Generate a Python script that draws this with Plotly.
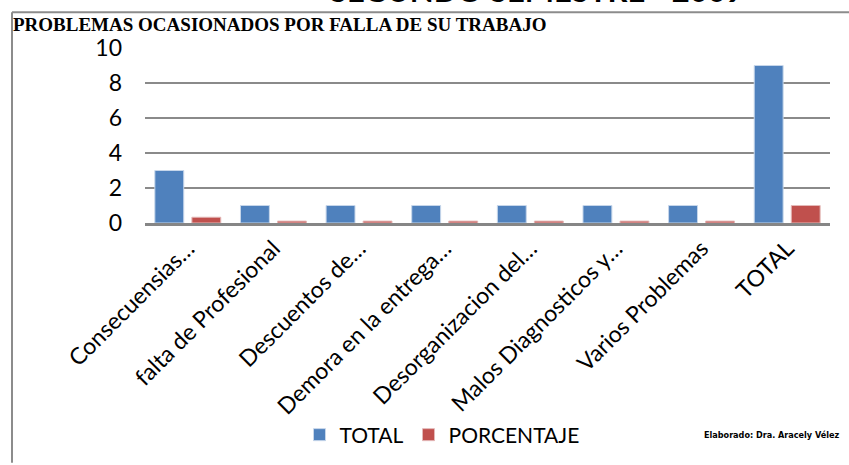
import plotly.graph_objects as go

categories = ["Consecuensias…", "falta de Profesional", "Descuentos de…", "Demora en la entrega…",
              "Desorganizacion del…", "Malos Diagnosticos y…", "Varios Problemas", "TOTAL"]
total = [3, 1, 1, 1, 1, 1, 1, 9]
porcentaje = [0.33, 0.11, 0.11, 0.11, 0.11, 0.11, 0.11, 1.0]
y_ticks = [0, 2, 4, 6, 8, 10]

W, H = 849, 465
L, R, T, B = 145, 19, 48, 241
pw, ph = W - L - R, H - T - B

def px(x):
    return (x - L) / pw

def py(y):
    return (H - B - y) / ph

FONT = "Lato, 'Open Sans', sans-serif"

fig = go.Figure()
fig.add_trace(go.Bar(x=categories, y=total, name="TOTAL", marker_color="#4f81bd",
                     marker_line=dict(color="#c6d6ea", width=1)))
fig.add_trace(go.Bar(x=categories, y=porcentaje, name="PORCENTAJE", marker_color="#c0504d",
                     marker_line=dict(color="#e4b9b8", width=1)))

fig.update_layout(
    width=W, height=H,
    margin=dict(l=L, r=R, t=T, b=B),
    paper_bgcolor="white", plot_bgcolor="white",
    barmode="group", bargap=0.135, bargroupgap=0.22,
    font=dict(family=FONT, size=21, color="black"),
    showlegend=True,
    legend=dict(orientation="h", x=px(442), y=py(435), xanchor="center", yanchor="middle",
                font=dict(family=FONT, size=21), itemwidth=30, traceorder="normal"),
    xaxis=dict(tickangle=-45, showline=True, linecolor="#868686", linewidth=3,
               showgrid=False, ticks="", tickfont=dict(family=FONT, size=23)),
    yaxis=dict(range=[0, 10], tickvals=y_ticks, showgrid=True, gridcolor="#8a8a8a",
               gridwidth=2, zeroline=False, showline=False, ticks="",
               ticklabelstandoff=22, tickfont=dict(family=FONT, size=23)),
)

fig.add_annotation(text="SEGUNDO SEMESTRE - 2009", xref="paper", yref="paper",
                   x=px(537), y=py(-10), xanchor="center", yanchor="middle", showarrow=False,
                   font=dict(family=FONT, size=31, color="black", weight="bold"))
fig.add_annotation(text="PROBLEMAS OCASIONADOS POR FALLA DE SU TRABAJO", xref="paper", yref="paper",
                   x=px(11), y=py(24), xanchor="left", yanchor="middle", showarrow=False,
                   font=dict(family="'Liberation Serif', serif", size=19, color="black", weight="bold"))
fig.add_annotation(text="Elaborado: Dra. Aracely Vélez", xref="paper", yref="paper",
                   x=px(771), y=py(437), xanchor="center", yanchor="middle", showarrow=False,
                   font=dict(family="'Liberation Sans Narrow', 'DejaVu Sans Condensed', sans-serif",
                             size=9, color="black", weight="bold"))

fig.add_shape(type="line", xref="paper", yref="paper", x0=px(12), x1=px(849), y0=py(12), y1=py(12),
              line=dict(color="#8c8c8c", width=2))
fig.add_shape(type="line", xref="paper", yref="paper", x0=px(12), x1=px(12), y0=py(12), y1=py(465),
              line=dict(color="#8c8c8c", width=2))

fig.write_html("out.html", config={"displayModeBar": False},
               post_script="document.body.style.margin='0';")
